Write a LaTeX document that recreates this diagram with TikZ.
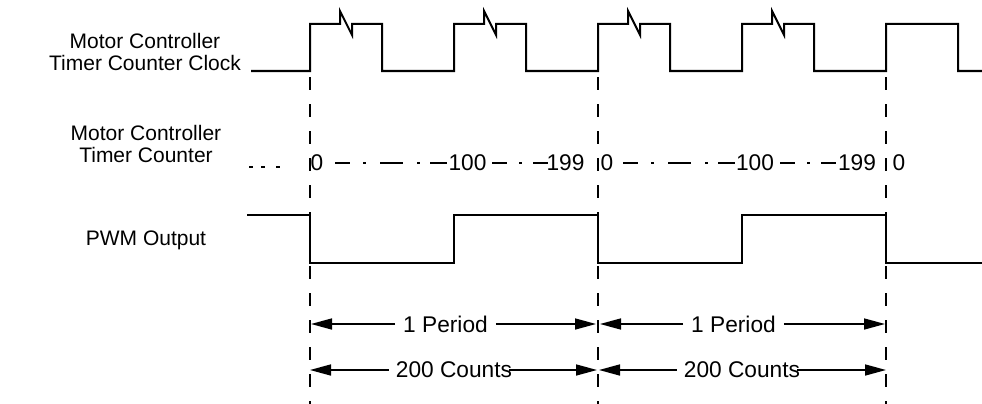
\documentclass[tikz,border=0pt]{standalone}
\usepackage{fontspec}
\setmainfont{Liberation Sans}
\usetikzlibrary{arrows.meta}
\begin{document}
\begin{tikzpicture}[x=1pt,y=-1pt,
  wave/.style={line width=2pt, line join=miter},
  guide/.style={line width=2pt, dash pattern=on 13pt off 14pt},
  lbl/.style={font=\fontsize{22.7}{25}\selectfont, inner sep=0pt, align=center},
  sig/.style={font=\fontsize{21}{21.5}\selectfont, inner sep=0pt, align=center},
  cnt/.style={line width=1.6pt},
  dim/.style={line width=1.6pt, -{Triangle[length=21pt,width=11pt]}},
]
\useasboundingbox (0,0) rectangle (982,404);

% signal labels
\node[sig] (clk) at (145,52) {Motor Controller\\Timer Counter Clock};
\node[sig] (tcn) at (146,144) {Motor Controller\\Timer Counter};
\node[sig] (pwm) at (146,240) {PWM Output};

% clock waveform
\draw[wave] (251,71)
  foreach \r in {310,454,598,742} {
    -- (\r,71) -- (\r,24) -- (\r+30,24) -- (\r+30,11) -- (\r+42,35)
    -- (\r+42,24) -- (\r+72,24) -- (\r+72,71) }
  -- (886,71) -- (886,24) -- (958,24) -- (958,71) -- (982,71);

% guide lines
\foreach \x/\n in {310/a,598/b,886/c} {
  \coordinate (top\n) at (\x,77);
  \coordinate (bot\n) at (\x,404);
  \draw[guide] (top\n) -- (bot\n);
}

% PWM waveform
\draw[wave] (247,215) -- (310,215) -- (310,263) -- (454,263) -- (454,215)
  -- (598,215) -- (598,263) -- (742,263) -- (742,215) -- (886,215)
  -- (886,263) -- (982,263);

% counter values
\node[lbl] (c0a) at (317,163) {0};
\node[lbl] (c1a) at (467.5,163) {100};
\node[lbl] (c2a) at (565.5,163) {199};
\node[lbl] (c0b) at (607,163) {0};
\node[lbl] (c1b) at (755,163) {100};
\node[lbl] (c2b) at (857,163) {199};
\node[lbl] (c0c) at (899,163) {0};

\foreach \o in {0,288} {
  \foreach \s/\e in {335/350,363/366,380/403,417/420,430/447,492/507,519/522,533/548} {
    \draw[cnt] (\s+\o,163) -- (\e+\o,163);
  }
}
\foreach \s in {249,261,276} {
  \draw[cnt] (\s,167) -- (\s+4,167);
}

% period arrows
\node[lbl] (per1) at (445.5,324) {1 Period};
\node[lbl] (per2) at (733.5,324) {1 Period};
\coordinate (p1l) at (311,324);
\coordinate (p1r) at (596,324);
\coordinate (p2l) at (600,324);
\coordinate (p2r) at (885,324);
\draw[dim] ([xshift=-8pt]per1.west) -- (p1l);
\draw[dim] ([xshift=8pt]per1.east) -- (p1r);
\draw[dim] ([xshift=-8pt]per2.west) -- (p2l);
\draw[dim] ([xshift=8pt]per2.east) -- (p2r);

% count arrows
\node[lbl] (cnt1) at (454,370) {200 Counts};
\node[lbl] (cnt2) at (742,370) {200 Counts};
\coordinate (q1l) at (310,370);
\coordinate (q1r) at (597,370);
\coordinate (q2l) at (599,370);
\coordinate (q2r) at (886,370);
\draw[dim] ([xshift=-7pt]cnt1.west) -- (q1l);
\draw[dim] ([xshift=-3pt]cnt1.east) -- (q1r);
\draw[dim] ([xshift=-7pt]cnt2.west) -- (q2l);
\draw[dim] ([xshift=-3pt]cnt2.east) -- (q2r);
\end{tikzpicture}
\end{document}
